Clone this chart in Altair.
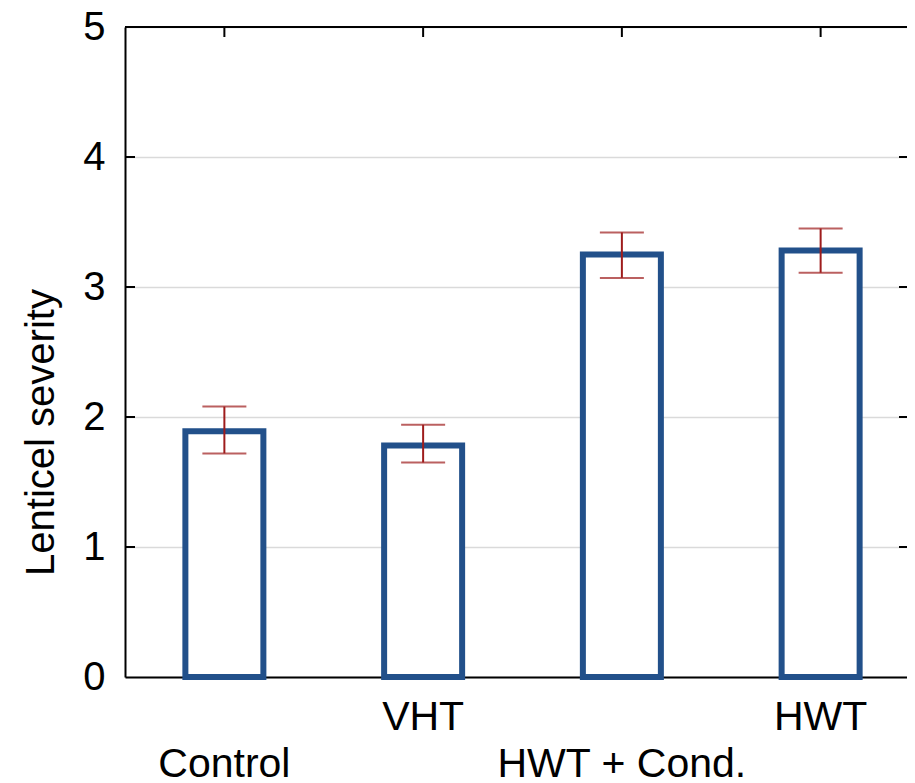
import altair as alt
import pandas as pd

categories = ["Control", "VHT", "HWT + Cond.", "HWT"]
means = [1.89, 1.78, 3.25, 3.28]
err_low = [1.72, 1.65, 3.07, 3.11]
err_high = [2.08, 1.94, 3.42, 3.45]
y_tick_values = [0, 1, 2, 3, 4, 5]
inner_ticks = [1, 2, 3, 4]

df = pd.DataFrame({"cat": categories, "mean": means, "lo": err_low, "hi": err_high})
tick_df = pd.DataFrame({"v": inner_ticks})

W, H = 782, 650
XR = 795  # band range extends slightly past the visible page edge, as in the reference
FONT = "Liberation Sans"
BLUE = "#22508A"
RED = "#9E1C1C"

x_scale = alt.Scale(paddingInner=0, paddingOuter=0, range=[0, XR])

x_enc = alt.X(
    "cat:N",
    sort=categories,
    scale=x_scale,
    axis=alt.Axis(
        title=None,
        labelExpr="(datum.value == 'Control' || datum.value == 'HWT + Cond.') ? [' ', datum.label] : datum.label",
        ticks=False,
        tickSize=0,
        domain=True,
        domainColor="black",
        domainWidth=2,
        grid=False,
        labelFont=FONT,
        labelFontSize=41,
        labelColor="black",
        labelPadding=20,
        labelLineHeight=47,
        labelAngle=0,
        labelAlign="center",
        labelBaseline="top",
        labelOverlap=False,
        labelBound=False,
        labelFlush=False,
        labelLimit=500,
    ),
)

y_enc = alt.Y(
    "mean:Q",
    scale=alt.Scale(domain=[0, 5], nice=False, zero=True),
    axis=alt.Axis(
        values=y_tick_values,
        format="d",
        grid=True,
        gridColor="#dadada",
        gridWidth=1.5,
        ticks=False,
        tickSize=0,
        domain=True,
        domainColor="black",
        domainWidth=2,
        labelFont=FONT,
        labelFontSize=40,
        labelColor="black",
        labelPadding=20,
        labelBaseline="middle",
        labelAlign="right",
        title="Lenticel severity",
        titleFont=FONT,
        titleFontSize=40,
        titleFontWeight="normal",
        titleColor="black",
        titleAngle=270,
        titleAlign="center",
        titleBaseline="alphabetic",
        titleX=-72,
        titleY=405,
    ),
)

base = alt.Chart(df)
xc = alt.X("cat:N", sort=categories, scale=x_scale)

bars = base.mark_bar(size=78, fill="white", stroke=BLUE, strokeWidth=6, strokeJoin="miter").encode(
    x=x_enc, y=y_enc
)

err_rule = base.mark_rule(color=RED, strokeWidth=2).encode(x=xc, y="lo:Q", y2="hi:Q")
cap_lo = base.mark_tick(color=RED, size=44, thickness=2).encode(x=xc, y="lo:Q")
cap_hi = base.mark_tick(color=RED, size=44, thickness=2).encode(x=xc, y="hi:Q")

top_line = base.mark_rule(color="black", strokeWidth=2).encode(
    x=alt.value(0), x2=alt.value(XR), y=alt.value(0)
)

tick_base = alt.Chart(tick_df)
left_ticks = tick_base.mark_rule(color="black", strokeWidth=2).encode(
    y="v:Q", x=alt.value(0), x2=alt.value(10)
)
right_ticks = tick_base.mark_rule(color="black", strokeWidth=2).encode(
    y="v:Q", x=alt.value(W - 8), x2=alt.value(W)
)
top_ticks = base.mark_rule(color="black", strokeWidth=2).encode(
    x=xc, y=alt.value(0), y2=alt.value(10)
)
bottom_ticks = base.mark_rule(color="black", strokeWidth=2).encode(
    x=xc, y=alt.value(H - 8), y2=alt.value(H)
)

chart = (
    alt.layer(top_ticks, bottom_ticks, bars, err_rule, cap_lo, cap_hi, top_line, left_ticks, right_ticks)
    .properties(
        width=W,
        height=H,
        autosize=alt.AutoSizeParams(type="none"),
        padding={"left": 117, "top": 19, "right": 0, "bottom": 106},
        background="white",
    )
    .configure_view(stroke=None)
)

chart.save("out.html", embed_options={"renderer": "svg", "actions": False})
